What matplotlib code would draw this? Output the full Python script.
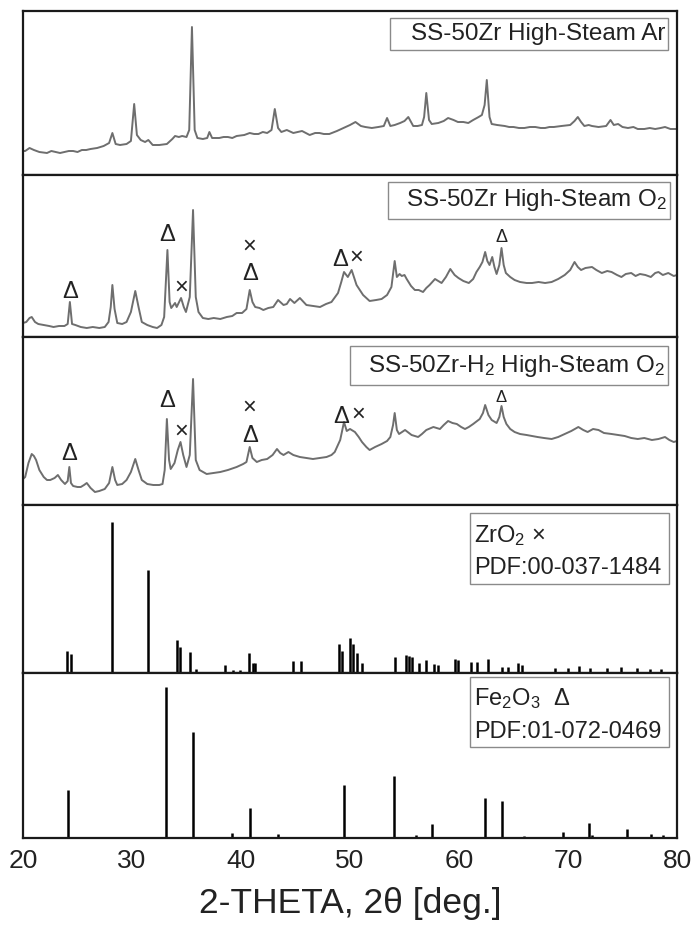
import numpy as np
import matplotlib
matplotlib.use("Agg")
import matplotlib.pyplot as plt
from matplotlib.patches import Rectangle

plt.rcParams['font.family'] = ['Liberation Sans', 'DejaVu Sans']
plt.rcParams['mathtext.fontset'] = 'custom'
plt.rcParams['mathtext.rm'] = 'Liberation Sans'
plt.rcParams['mathtext.it'] = 'Liberation Sans:italic'

# measured patterns: 2-theta (deg) and intensity (a.u.)
ar_tth = [20.0, 20.2, 20.6, 21.0, 21.5, 22.2, 22.6, 23.0, 23.4, 23.8, 24.2, 24.6, 25.0, 25.4, 25.8, 26.2,
          26.8, 27.4, 27.9, 28.2, 28.5, 28.9, 29.5, 29.9, 30.2, 30.45, 30.8, 31.2, 31.5, 31.9, 32.5, 33.2,
          33.7, 33.95, 34.3, 34.6, 35.0, 35.25, 35.5, 35.75, 36.0, 36.5, 36.9, 37.1, 37.35, 38.0, 38.4,
          38.8, 39.2, 39.6, 40.3, 40.8, 41.2, 41.6, 42.0, 42.4, 42.8, 43.1, 43.4, 43.7, 44.2, 44.8, 45.2,
          45.6, 46.3, 46.8, 47.2, 47.6, 48.1, 48.8, 49.4, 50.0, 50.5, 51.0, 51.4, 52.0, 52.6, 53.1, 53.4,
          53.7, 54.1, 54.6, 55.0, 55.35, 55.8, 56.2, 56.6, 56.8, 57.0, 57.25, 57.5, 58.1, 58.6, 59.0, 59.5,
          59.9, 60.4, 60.85, 61.3, 61.8, 62.1, 62.35, 62.55, 62.8, 63.0, 63.5, 64.2, 64.6, 65.0, 65.5, 66.0,
          66.5, 67.0, 67.5, 67.9, 68.3, 68.7, 69.4, 70.2, 70.6, 70.9, 71.2, 71.5, 71.9, 72.2, 72.8, 73.5,
          73.9, 74.2, 74.6, 75.0, 75.5, 76.0, 76.4, 77.0, 77.5, 78.0, 78.5, 78.9, 79.4, 80.0]
ar_int = [24, 24, 27, 25, 23, 22, 24, 23, 22, 23, 24, 24, 23, 25, 25, 26,
          27, 29, 32, 42, 31, 30, 31, 34, 71, 40, 35, 33, 35, 30, 30, 31,
          36, 39, 38, 39, 38, 45, 148, 45, 37, 36, 37, 43, 37, 37, 38,
          38, 37, 39, 40, 42, 41, 41, 43, 42, 45, 66, 47, 43, 45, 42, 43,
          44, 40, 42, 42, 41, 41, 44, 47, 50, 53, 49, 48, 47, 48, 49, 57,
          49, 50, 52, 54, 58, 49, 49, 50, 58, 82, 55, 51, 52, 54, 57, 55,
          53, 53, 52, 55, 58, 60, 70, 95, 58, 51, 50, 49, 48, 48, 47, 47,
          48, 48, 47, 47, 48, 48, 49, 50, 54, 58, 53, 49, 50, 49, 48, 49,
          55, 50, 51, 48, 47, 48, 46, 46, 47, 46, 47, 48, 46, 46]

o2_tth = [20.0, 20.3, 20.6, 20.8, 21.1, 21.4, 21.9, 22.4, 22.8, 23.3, 23.8, 24.1, 24.3, 24.5, 24.8, 25.3,
          25.85, 26.4, 27.0, 27.5, 27.85, 28.05, 28.2, 28.4, 28.65, 29.1, 29.5, 29.9, 30.3, 30.6, 30.9,
          31.4, 31.9, 32.3, 32.7, 32.95, 33.25, 33.45, 33.6, 33.95, 34.1, 34.5, 34.75, 34.95, 35.3, 35.6,
          35.85, 36.1, 36.5, 37.0, 37.5, 38.1, 38.7, 39.2, 39.6, 40.1, 40.5, 40.8, 41.05, 41.3, 41.7,
          42.05, 42.5, 42.96, 43.4, 43.9, 44.2, 44.5, 44.9, 45.4, 46.0, 46.6, 47.25, 47.8, 48.3, 48.9,
          49.2, 49.45, 49.8, 50.15, 50.6, 51.2, 51.8, 52.4, 52.9, 53.4, 53.8, 54.1, 54.3, 54.55, 54.75,
          55.0, 55.2, 55.6, 55.95, 56.3, 56.7, 57.0, 57.3, 57.8, 58.1, 58.4, 58.8, 59.2, 59.6, 59.95,
          60.4, 60.9, 61.3, 61.6, 61.9, 62.15, 62.4, 62.6, 62.8, 63.05, 63.25, 63.45, 63.7, 63.9, 64.1,
          64.3, 64.7, 65.1, 65.6, 66.2, 66.7, 67.3, 67.9, 68.5, 69.1, 69.7, 70.2, 70.6, 70.9, 71.2, 71.6,
          72.2, 72.6, 73.1, 73.6, 74.0, 74.5, 74.9, 75.3, 75.8, 76.2, 76.6, 77.1, 77.6, 78.0, 78.3, 78.7,
          79.2, 79.7, 80.0]
o2_int = [14, 15, 19, 20, 15, 13, 12, 11, 10, 11, 11, 13, 35, 13, 12, 10,
          9, 10, 9, 10, 15, 30, 52, 28, 14, 13, 15, 25, 46, 30, 15,
          12, 10, 9, 12, 20, 87, 35, 29, 34, 30, 39, 30, 25, 40, 127,
          40, 25, 19, 18, 19, 18, 20, 21, 24, 24, 28, 47, 35, 30, 29,
          27, 29, 30, 37, 32, 33, 38, 34, 39, 32, 31, 30, 33, 35, 44,
          55, 65, 60, 67, 52, 42, 36, 37, 38, 42, 50, 76, 60, 63, 61,
          62, 58, 51, 47, 47, 45, 49, 52, 58, 56, 54, 60, 68, 62, 59,
          56, 54, 58, 65, 70, 75, 85, 76, 72, 80, 70, 63, 72, 89, 72,
          64, 60, 57, 55, 54, 54, 55, 54, 55, 58, 62, 67, 75, 70, 67, 69,
          70, 67, 64, 66, 65, 62, 60, 63, 64, 61, 63, 62, 60, 64, 65, 62,
          64, 61, 62]

h2_tth = [20.0, 20.2, 20.5, 20.8, 21.0, 21.2, 21.5, 21.9, 22.2, 22.5, 22.9, 23.2, 23.5, 23.85, 24.1, 24.25,
          24.4, 24.6, 25.0, 25.3, 25.6, 25.85, 26.2, 26.6, 27.0, 27.5, 27.9, 28.2, 28.45, 28.65, 29.1,
          29.5, 29.9, 30.3, 30.6, 30.9, 31.4, 31.95, 32.5, 32.8, 33.0, 33.2, 33.4, 33.55, 33.9, 34.2,
          34.45, 34.7, 35.0, 35.3, 35.6, 35.85, 36.2, 36.85, 37.5, 38.1, 38.8, 39.6, 40.2, 40.5, 40.8,
          41.05, 41.45, 41.9, 42.4, 42.9, 43.3, 43.6, 43.9, 44.35, 44.8, 45.4, 46.0, 46.6, 47.2, 47.85,
          48.3, 48.6, 49.1, 49.45, 49.7, 50.0, 50.45, 50.8, 51.1, 51.5, 51.8, 52.3, 52.9, 53.4, 53.7,
          53.95, 54.1, 54.3, 54.5, 55.05, 55.65, 56.25, 56.6, 57.0, 57.65, 58.25, 58.6, 59.0, 59.4, 59.8,
          60.2, 60.55, 60.9, 61.3, 61.9, 62.2, 62.4, 62.7, 63.0, 63.45, 63.7, 63.9, 64.1, 64.35, 64.7,
          65.1, 65.6, 66.2, 66.7, 67.2, 67.8, 68.5, 69.1, 69.7, 70.3, 70.95, 71.4, 71.8, 72.3, 72.8,
          73.3, 74.0, 74.6, 75.2, 75.8, 76.4, 77.0, 77.7, 78.3, 78.9, 79.3, 79.7, 80.0]
h2_int = [26, 28, 42, 51, 49, 45, 35, 28, 25, 25, 27, 30, 25, 21, 24, 38,
          22, 19, 18, 18, 20, 22, 17, 13, 14, 16, 22, 38, 25, 20, 21,
          25, 33, 46, 35, 25, 21, 20, 20, 21, 35, 86, 45, 36, 42, 55,
          63, 50, 38, 50, 126, 45, 35, 31, 32, 33, 35, 38, 41, 43, 58,
          47, 43, 45, 46, 50, 56, 52, 50, 53, 50, 48, 47, 46, 47, 48,
          50, 53, 65, 83, 74, 76, 73, 68, 63, 58, 55, 58, 61, 64, 68,
          80, 92, 75, 71, 75, 70, 68, 71, 75, 78, 76, 80, 84, 82, 81,
          78, 76, 78, 81, 86, 92, 100, 90, 85, 82, 88, 99, 88, 81, 76,
          73, 71, 70, 69, 68, 67, 66, 68, 71, 74, 78, 75, 73, 76, 75,
          72, 71, 70, 69, 67, 66, 67, 65, 66, 68, 65, 63, 64]

# reference stick patterns
zro2_tth = [24.05, 24.4, 28.2, 31.5, 34.1, 34.4, 35.3, 35.9, 38.5, 39.3, 39.9, 40.7, 41.1, 41.3,
            44.8, 45.5, 49.0, 49.3, 50.0, 50.3, 50.65, 51.1, 54.1, 55.1, 55.4, 55.7, 56.3, 57.0,
            57.7, 58.1, 59.6, 59.9, 61.1, 61.65, 62.65, 63.9, 64.5, 65.4, 65.8, 68.8, 70.0, 71.0,
            72.0, 73.6, 74.9, 76.3, 77.5, 78.5]
zro2_int = [22, 19, 151, 103, 33, 26, 21, 4, 8, 3, 3, 20, 10, 10,
            12, 12, 29, 22, 35, 29, 20, 10, 16, 18, 17, 16, 10, 13,
            9, 8, 14, 13, 11, 11, 14, 6, 6, 10, 8, 5, 5, 7,
            5, 5, 6, 5, 4, 4]
fe2o3_tth = [24.15, 33.15, 35.6, 39.2, 40.85, 43.4, 49.45, 54.05, 56.1, 57.55, 62.4, 63.95,
             66.0, 69.5, 71.9, 72.2, 75.4, 77.6, 78.7]
fe2o3_int = [48, 151, 106, 5, 30, 4, 53, 62, 3, 14, 40, 37,
             2, 6, 15, 3, 9, 4, 3]

# phase marks: (symbol, 2-theta, height, size)
o2_marks = [('Δ', 24.3, 45, 17), ('Δ', 33.25, 102, 17), ('×', 34.5, 49, 17), ('×', 40.8, 90, 17),
            ('Δ', 40.8, 63, 17), ('Δ', 49.1, 77, 17), ('×', 50.6, 79, 17), ('Δ', 63.9, 100, 13)]
h2_marks = [('Δ', 24.25, 51, 17), ('Δ', 33.2, 104, 17), ('×', 34.5, 73, 17), ('×', 40.8, 97, 17),
            ('Δ', 40.8, 69, 17), ('Δ', 49.2, 88, 17), ('×', 50.8, 90, 17), ('Δ', 63.9, 108, 12)]

line_color = '#6e6e6e'
text_color = '#222222'

fig = plt.figure(figsize=(6.91, 9.31), dpi=100)
heights = [164, 162, 168, 168, 165]
gs = fig.add_gridspec(5, 1, height_ratios=heights, hspace=0,
                      left=23 / 691, right=677 / 691, top=1 - 11 / 931, bottom=1 - 838 / 931)
axes = [fig.add_subplot(gs[i]) for i in range(5)]

for ax, h in zip(axes, heights):
    ax.set_xlim(20, 80)
    ax.set_ylim(0, h)
    ax.set_yticks([])
    ax.set_xticks(range(20, 81, 10))
    ax.tick_params(axis='x', length=0, labelbottom=False)
    for s in ax.spines.values():
        s.set_linewidth(1.6)
        s.set_color('#1a1a1a')

axes[0].plot(ar_tth, ar_int, color=line_color, lw=1.4)
axes[1].plot(o2_tth, o2_int, color=line_color, lw=1.4)
axes[2].plot(h2_tth, h2_int, color=line_color, lw=1.4)
axes[3].vlines(zro2_tth, 0, zro2_int, color='black', lw=1.8)
axes[4].vlines(fe2o3_tth, 0, fe2o3_int, color='black', lw=1.8)

for ax, marks in [(axes[1], o2_marks), (axes[2], h2_marks)]:
    for sym, x, y, fs in marks:
        ax.text(x, y, sym, ha='center', va='center', fontsize=fs, color=text_color)


def label_box(ax, x0, y0, x1, y1):
    ax.add_patch(Rectangle((x0, y0), x1 - x0, y1 - y0, transform=ax.transAxes,
                           facecolor='white', edgecolor='#8a8a8a', lw=1.0, zorder=3))


label_box(axes[0], 0.561, 0.762, 0.986, 0.957)
axes[0].text(0.982, 0.86, 'SS-50Zr High-Steam Ar', transform=axes[0].transAxes,
             ha='right', va='center', fontsize=17.5, color=text_color, zorder=4)

label_box(axes[1], 0.558, 0.728, 0.989, 0.957)
axes[1].text(0.985, 0.846, r'SS-50Zr High-Steam O$_\mathregular{2}$', transform=axes[1].transAxes,
             ha='right', va='center', fontsize=17.5, color=text_color, zorder=4)

label_box(axes[2], 0.5, 0.714, 0.986, 0.946)
axes[2].text(0.982, 0.827, r'SS-50Zr-H$_\mathregular{2}$ High-Steam O$_\mathregular{2}$',
             transform=axes[2].transAxes,
             ha='right', va='center', fontsize=17.5, color=text_color, zorder=4)

label_box(axes[3], 0.683, 0.53, 0.988, 0.952)
axes[3].text(0.69, 0.821, r'ZrO$_\mathregular{2}$ ×', transform=axes[3].transAxes,
             ha='left', va='center', fontsize=17, color=text_color, zorder=4)
axes[3].text(0.69, 0.625, 'PDF:00-037-1484', transform=axes[3].transAxes,
             ha='left', va='center', fontsize=17, color=text_color, zorder=4)

label_box(axes[4], 0.683, 0.552, 0.988, 0.976)
axes[4].text(0.69, 0.848, r'Fe$_\mathregular{2}$O$_\mathregular{3}$  Δ', transform=axes[4].transAxes,
             ha='left', va='center', fontsize=17, color=text_color, zorder=4)
axes[4].text(0.69, 0.642, 'PDF:01-072-0469', transform=axes[4].transAxes,
             ha='left', va='center', fontsize=17, color=text_color, zorder=4)

axes[4].tick_params(axis='x', labelbottom=True, labelsize=19, pad=8, labelcolor=text_color)
axes[4].set_xlabel('2-THETA, 2θ [deg.]', fontsize=25.5, color=text_color, labelpad=10)

fig.savefig('out.png', dpi=100)
